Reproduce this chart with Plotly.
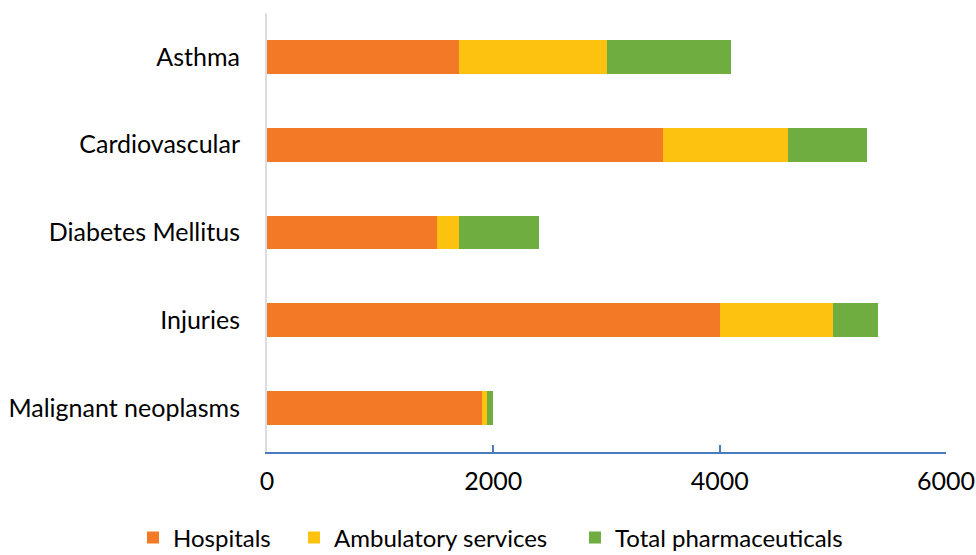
import plotly.graph_objects as go

categories = ["Asthma", "Cardiovascular", "Diabetes Mellitus", "Injuries", "Malignant neoplasms"]
hospitals = [1700, 3500, 1500, 4000, 1900]
ambulatory = [1300, 1100, 200, 1000, 40]
pharma = [1100, 700, 700, 400, 60]
series_names = ["Hospitals", "Ambulatory services", "Total pharmaceuticals"]
colors = ["#F27A27", "#FDC10F", "#6FAD41"]
tick_vals = [0, 2000, 4000, 6000]

W, H = 976, 555
legend_ids = ["legend", "legend2", "legend3"]
legend_text_x = [173, 334, 615]  # where each legend label starts (px)

fig = go.Figure()
for name, vals, col, lid in zip(series_names, [hospitals, ambulatory, pharma], colors, legend_ids):
    fig.add_trace(go.Bar(
        y=categories, x=vals, name=name, orientation="h", legend=lid,
        marker=dict(color=col, line=dict(width=0)),
    ))

FONT = "Lato, Carlito, 'Open Sans', sans-serif"
leg_common = dict(orientation="h", xref="container", yref="container",
                  xanchor="left", yanchor="middle", y=(H - 538) / H,
                  font=dict(size=24), bgcolor="rgba(0,0,0,0)", borderwidth=0)
legends = {}
for lid, tx in zip(legend_ids, legend_text_x):
    legends[lid] = dict(leg_common, x=(tx - 40) / W)

fig.update_layout(
    barmode="stack",
    bargap=0.615,
    width=W, height=H,
    margin=dict(l=267, r=30, t=13, b=103),
    plot_bgcolor="white", paper_bgcolor="white",
    font=dict(family=FONT, size=25, color="#000000"),
    showlegend=True,
    xaxis=dict(range=[0, 6000], tickvals=tick_vals, showgrid=False, zeroline=False,
               showline=True, linecolor="#4A7EBB", linewidth=1.5,
               ticks="inside", ticklen=7, tickcolor="#4A7EBB", tickwidth=1.5,
               ticklabelstandoff=6, fixedrange=True, automargin=False),
    yaxis=dict(categoryorder="array", categoryarray=categories, autorange="reversed",
               showgrid=False, zeroline=False, showline=True, linecolor="#D9DEE6",
               linewidth=2, ticks="", ticklabelstandoff=20, automargin=False,
               fixedrange=True),
    **legends,
)
fig.write_html("out.html", config={"displayModeBar": False},
               post_script="document.body.style.margin='0';document.body.style.overflow='hidden';")
